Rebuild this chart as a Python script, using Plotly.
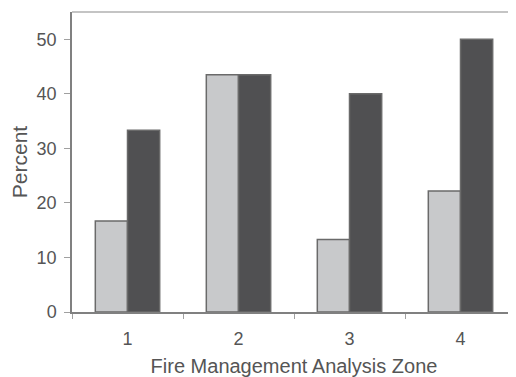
import plotly.graph_objects as go

zones = ["1", "2", "3", "4"]
series_light = [16.7, 43.5, 13.3, 22.2]
series_dark = [33.3, 43.5, 40.0, 50.0]
y_ticks = [0, 10, 20, 30, 40, 50]

fig = go.Figure()
fig.add_trace(go.Bar(x=zones, y=series_light, marker=dict(color="#c8c9cb", line=dict(color="#6a6a6a", width=1.5)), showlegend=False))
fig.add_trace(go.Bar(x=zones, y=series_dark, marker=dict(color="#505052", line=dict(color="#6a6a6a", width=1.5)), showlegend=False))

fig.update_layout(
    width=508, height=369,
    margin=dict(l=64, r=0, t=4, b=65),
    barmode="group", bargap=0.42, bargroupgap=0,
    plot_bgcolor="white", paper_bgcolor="white",
    font=dict(family="Liberation Sans, Arial, sans-serif", color="#555555"),
    xaxis=dict(
        showline=True, linecolor="#808080", linewidth=1.5,
        ticks="outside", tickson="boundaries", ticklen=5, tickcolor="#a0a0a0",
        tickfont=dict(size=18), ticklabelstandoff=10,
        title=dict(text="Fire Management Analysis Zone", font=dict(size=20), standoff=13),
        showgrid=False,
    ),
    yaxis=dict(
        range=[0, 55], tickvals=y_ticks,
        showline=True, linecolor="#808080", linewidth=1.5,
        ticks="outside", ticklen=6, tickcolor="#a0a0a0",
        tickfont=dict(size=18), ticklabelstandoff=4,
        title=dict(text="Percent", font=dict(size=21), standoff=13),
        showgrid=False, zeroline=False,
    ),
    shapes=[dict(type="line", xref="paper", yref="paper", x0=0, x1=1, y0=1, y1=1,
                 line=dict(color="#b0b0b0", width=1.5))],
)

fig.write_html("out.html")
